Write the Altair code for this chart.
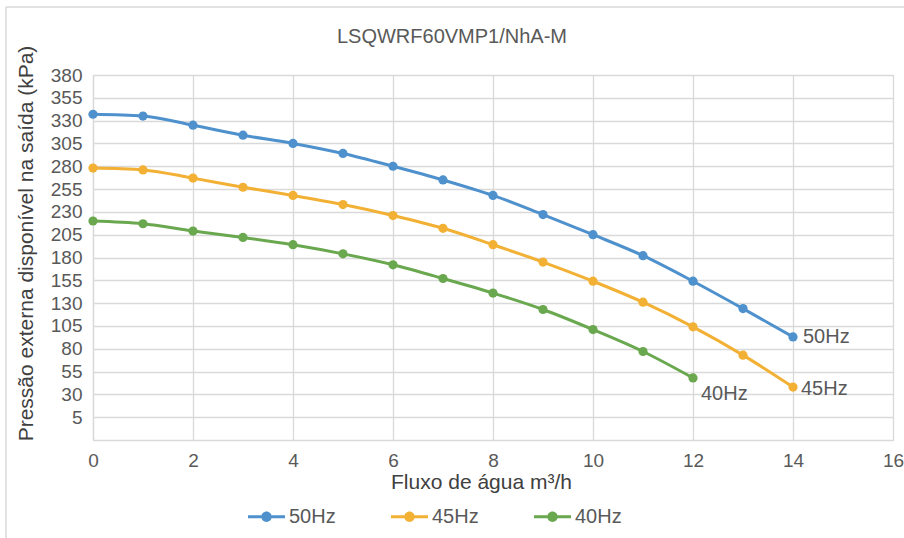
import altair as alt
import pandas as pd

# ---- data ----
flow_50 = [0, 1, 2, 3, 4, 5, 6, 7, 8, 9, 10, 11, 12, 13, 14]
p_50 = [337, 335, 325, 314, 305, 294, 280, 265, 248, 227, 205, 182, 154, 124, 93]
flow_45 = [0, 1, 2, 3, 4, 5, 6, 7, 8, 9, 10, 11, 12, 13, 14]
p_45 = [278, 276, 267, 257, 248, 238, 226, 212, 194, 175, 154, 131, 104, 73, 38]
flow_40 = [0, 1, 2, 3, 4, 5, 6, 7, 8, 9, 10, 11, 12]
p_40 = [220, 217, 209, 202, 194, 184, 172, 157, 141, 123, 101, 77, 48]

series_names = ["50Hz", "45Hz", "40Hz"]
series_colors = ["#4e91cd", "#f2b134", "#6aa84f"]
x_ticks = [0, 2, 4, 6, 8, 10, 12, 14, 16]
y_ticks = [5, 30, 55, 80, 105, 130, 155, 180, 205, 230, 255, 280, 305, 330, 355, 380]

rows = []
for name, xs, ys in zip(series_names, [flow_50, flow_45, flow_40], [p_50, p_45, p_40]):
    for xv, yv in zip(xs, ys):
        rows.append({"serie": name, "fluxo": xv, "pressao": yv})
df = pd.DataFrame(rows)

FONT = "Liberation Sans"
GRID = "#d9d9d9"
TXT = "#595959"

xenc = alt.X("fluxo:Q",
             scale=alt.Scale(domain=[0, 16], nice=False, zero=False),
             axis=alt.Axis(values=x_ticks, tickCount=40, format="d",
                           title="Fluxo de água m³/h", grid=True,
                           gridColor=GRID, gridWidth=1.3, domainColor=GRID, domainWidth=1.3,
                           ticks=False, tickSize=0, labelPadding=11, labelFontSize=19,
                           labelColor=TXT, labelFont=FONT, titleFont=FONT,
                           labelOverlap=False, labelFlush=False, labelBound=False,
                           titleFontSize=21, titleFontWeight="normal", titleColor="#404040",
                           titleX=388, titleY=48, titleBaseline="alphabetic", titleAlign="center"))
yenc = alt.Y("pressao:Q",
             scale=alt.Scale(domain=[-20, 380], nice=False, zero=False),
             axis=alt.Axis(values=y_ticks, tickCount=40, format="d",
                           title="Pressão externa disponível na saída (kPa)",
                           grid=True, gridColor=GRID, gridWidth=1.3, domainColor=GRID,
                           domainWidth=1.3, ticks=False, tickSize=0, labelPadding=11,
                           labelOverlap=False, labelFlush=False, labelBound=False,
                           labelFontSize=19, labelColor=TXT, labelFont=FONT, titleFont=FONT,
                           titleFontSize=21, titleFontWeight="normal", titleColor="#404040",
                           titleX=-67, titleY=168, titleBaseline="middle", titleAlign="center",
                           titleAngle=270))
color_scale = alt.Scale(domain=series_names, range=series_colors)

legend_symbol = ("M-1,-0.08H1V0.08H-1Z "
                 "M0.28,0A0.28,0.28 0 1,1 -0.28,0A0.28,0.28 0 1,1 0.28,0Z")
legend = alt.Legend(title=None, orient="none", direction="horizontal",
                    legendX=155, legendY=423,
                    symbolType=legend_symbol, symbolSize=1369,
                    symbolStrokeWidth=0, symbolOpacity=1,
                    labelFontSize=20, labelFont=FONT, labelColor=TXT,
                    labelOffset=4, columnPadding=55)
cenc = alt.Color("serie:N", scale=color_scale, sort=series_names, legend=legend)

base = alt.Chart(df)

lines = base.mark_line(strokeWidth=3, interpolate="monotone").encode(
    x=xenc, y=yenc, color=cenc,
)

points = base.mark_point(filled=True, size=85, opacity=1).encode(
    x="fluxo:Q", y="pressao:Q", color=cenc,
)

label_offsets = {"50Hz": (10, 0), "45Hz": (8, 2), "40Hz": (8, 16)}
labels = []
for name, xs in zip(series_names, [flow_50, flow_45, flow_40]):
    dx, dy = label_offsets[name]
    labels.append(
        base.transform_filter(
            (alt.datum.serie == name) & (alt.datum.fluxo == xs[-1])
        ).mark_text(align="left", baseline="middle", dx=dx, dy=dy, fontSize=20,
                    font=FONT, color=TXT).encode(
            x="fluxo:Q", y="pressao:Q", text="serie:N")
    )

border_src = alt.Data(values=[{"k": 1}])
left_border = alt.Chart(border_src).mark_rule(color=GRID, strokeWidth=1.5).encode(
    x=alt.value(-87), y=alt.value(-68), y2=alt.value(470))
top_border = alt.Chart(border_src).mark_rule(color=GRID, strokeWidth=1.5).encode(
    x=alt.value(-87), x2=alt.value(820), y=alt.value(-68))

chart = alt.layer(lines, points, *labels, left_border, top_border).properties(
    width=800, height=365,
    title=alt.TitleParams("LSQWRF60VMP1/NhA-M", fontSize=20, font=FONT, color=TXT,
                          fontWeight="normal", anchor="middle", dx=-41, offset=-57,
                          baseline="alphabetic"),
    autosize=alt.AutoSizeParams(type="none"),
    padding={"left": 93, "top": 75, "right": 11, "bottom": 98},
).configure_view(stroke="transparent").configure(background="white")

chart.save("out.html", embed_options={"renderer": "svg", "actions": False})
